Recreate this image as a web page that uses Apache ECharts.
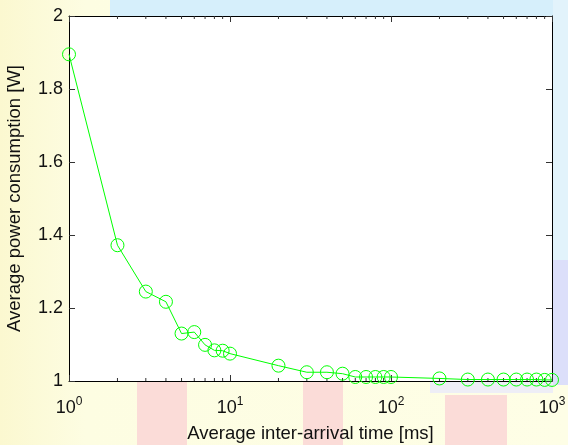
<!DOCTYPE html>
<html>
<head>
<meta charset="utf-8">
<script src="https://cdn.jsdelivr.net/npm/echarts@6/dist/echarts.min.js"></script>
<style>
html,body{margin:0;padding:0;background:#fdfcdc;}
#chart{width:568px;height:445px;}
</style>
</head>
<body>
<div id="chart"></div>
<script>
// Data
var interArrival = [1, 2, 3, 4, 5, 6, 7, 8, 9, 10, 20, 30, 40, 50, 60, 70, 80, 90, 100, 200, 300, 400, 500, 600, 700, 800, 900, 1000];
var powerW = [1.895, 1.372, 1.245, 1.217, 1.130, 1.134, 1.099, 1.084, 1.083, 1.075, 1.042, 1.024, 1.024, 1.020, 1.011, 1.011, 1.011, 1.011, 1.011, 1.007, 1.004, 1.004, 1.004, 1.004, 1.004, 1.004, 1.003, 1.003];
var minorTickValues = [2, 3, 4, 5, 6, 7, 8, 9, 20, 30, 40, 50, 60, 70, 80, 90, 200, 300, 400, 500, 600, 700, 800, 900];
var yTicks = [1, 1.2, 1.4, 1.6, 1.8, 2];

var chart = echarts.init(document.getElementById('chart'));
var FONT = 'Liberation Sans, Arial, sans-serif';

var xAxisBase = {
  type: 'log', logBase: 10, min: 1, max: 1000,
  axisLine: { show: true, lineStyle: { color: '#000', width: 1 } },
  axisTick: { show: true, inside: true, length: 6, lineStyle: { color: '#333' } },
  splitLine: { show: false },
  minorTick: { show: false }
};

var option = {
  animation: false,
  backgroundColor: 'transparent',
  graphic: [
    { type: 'rect', z: -10, shape: { x: 0, y: 0, width: 568, height: 445 },
      style: { fill: new echarts.graphic.LinearGradient(0, 0, 1, 0, [
        { offset: 0, color: '#fbf8d0' }, { offset: 0.15, color: '#fdfde2' }, { offset: 1, color: '#fefee6' }]) } },
    { type: 'rect', z: -9, shape: { x: 110, y: 0, width: 458, height: 16 }, style: { fill: '#d6effb' } },
    { type: 'rect', z: -9, shape: { x: 553, y: 0, width: 15, height: 260 }, style: { fill: '#e2f3fb' } },
    { type: 'rect', z: -9, shape: { x: 553, y: 260, width: 15, height: 125 }, style: { fill: '#dcdffa' } },
    { type: 'rect', z: -9, shape: { x: 430, y: 381, width: 123, height: 12 }, style: { fill: '#eeeef6' } },
    { type: 'rect', z: -9, shape: { x: 137, y: 381, width: 50, height: 64 }, style: { fill: '#fbdcd8' } },
    { type: 'rect', z: -9, shape: { x: 303, y: 381, width: 40, height: 64 }, style: { fill: '#fbdcd8' } },
    { type: 'rect', z: -9, shape: { x: 445, y: 395, width: 62, height: 50 }, style: { fill: '#fbdcd8' } },
    { type: 'rect', z: -8, shape: { x: 69, y: 16, width: 483, height: 365 }, style: { fill: '#ffffff' } }
  ],
  grid: { left: 69, right: 16, top: 16, bottom: 64, show: false, containLabel: false, outerBoundsMode: 'none' },
  xAxis: [
    Object.assign({}, xAxisBase, {
      position: 'bottom',
      name: 'Average inter-arrival time [ms]',
      nameLocation: 'middle', nameGap: 43,
      nameTextStyle: { fontFamily: FONT, fontSize: 18.5, color: '#111' },
      axisLabel: {
        show: true, margin: 15, color: '#111',
        formatter: function (v) {
          var e = Math.round(Math.log(v) / Math.LN10);
          return '{b|10}{s|' + e + '}';
        },
        rich: {
          b: { fontFamily: FONT, fontSize: 18, color: '#111', verticalAlign: 'bottom' },
          s: { fontFamily: FONT, fontSize: 12, color: '#111', verticalAlign: 'top', padding: [0, 0, 9, 0] }
        }
      }
    }),
    Object.assign({}, xAxisBase, { position: 'top', axisLabel: { show: false } })
  ],
  yAxis: [
    {
      type: 'value', min: 1, max: 2, interval: 0.2, position: 'left',
      name: 'Average power consumption [W]',
      nameLocation: 'middle', nameGap: 45,
      nameTextStyle: { fontFamily: FONT, fontSize: 18.5, color: '#111' },
      axisLine: { show: true, lineStyle: { color: '#000', width: 1 } },
      axisTick: { show: true, inside: true, length: 6, lineStyle: { color: '#333' } },
      splitLine: { show: false },
      axisLabel: { margin: 6, fontFamily: FONT, fontSize: 18, color: '#111',
        formatter: function (v) { return String(Math.round(v * 10) / 10); } }
    },
    {
      type: 'value', min: 1, max: 2, interval: 0.2, position: 'right',
      axisLine: { show: true, lineStyle: { color: '#000', width: 1 } },
      axisTick: { show: true, inside: true, length: 6, lineStyle: { color: '#333' } },
      splitLine: { show: false },
      axisLabel: { show: false }
    }
  ],
  series: [
    {
      type: 'custom',
      silent: true,
      data: minorTickValues.map(function (v) { return [v]; }),
      renderItem: function (params, api) {
        var v = api.value(0);
        var pb = api.coord([v, 1]);
        var pt = api.coord([v, 2]);
        var st = { stroke: '#333', lineWidth: 1 };
        return {
          type: 'group', children: [
            { type: 'line', shape: { x1: pb[0], y1: pb[1], x2: pb[0], y2: pb[1] - 3 }, style: st },
            { type: 'line', shape: { x1: pt[0], y1: pt[1], x2: pt[0], y2: pt[1] + 3 }, style: st }
          ]
        };
      },
      encode: { x: 0 },
      z: 1
    },
    {
      type: 'line',
      data: interArrival.map(function (x, i) { return [x, powerW[i]]; }),
      symbol: 'circle',
      symbolSize: 13,
      showAllSymbol: true,
      clip: false,
      lineStyle: { color: '#00ff00', width: 1 },
      itemStyle: { color: 'rgba(0,0,0,0)', borderColor: '#00ff00', borderWidth: 1 },
      emphasis: { disabled: true },
      z: 5
    }
  ]
};
chart.setOption(option);
</script>
</body>
</html>
